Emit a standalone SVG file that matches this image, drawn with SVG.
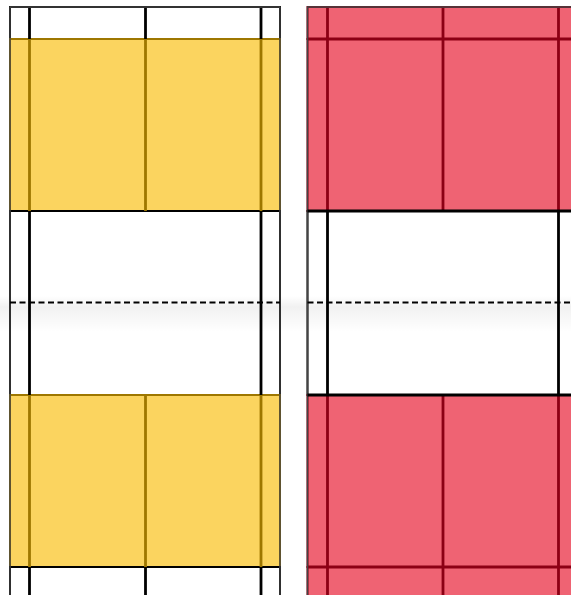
<svg xmlns="http://www.w3.org/2000/svg" width="571" height="595" viewBox="0 0 571 595">
  <defs>
    <linearGradient id="shade" x1="0" y1="0" x2="0" y2="1">
      <stop offset="0" stop-color="#000" stop-opacity="0"/>
      <stop offset="0.3" stop-color="#000" stop-opacity="0.055"/>
      <stop offset="1" stop-color="#000" stop-opacity="0"/>
    </linearGradient>
  </defs>
  <style>
    .w { fill: #ffffff; stroke: #000; stroke-width: 2; }
    .y { fill: #fbd45f; stroke: #9e7700; stroke-width: 2; }
    .r { fill: #ef6373; stroke: #8c0014; stroke-width: 2; }
    .lb { stroke: #000; stroke-width: 2.8; fill: none; }
    .ly { stroke: #9e7700; stroke-width: 2.8; fill: none; }
    .lr { stroke: #8c0014; stroke-width: 2.8; fill: none; }
    .edge { stroke: #444; stroke-width: 1.4; fill: none; }
    .dash { stroke: #000; stroke-width: 2.2; stroke-dasharray: 6 3.5; fill: none; }
  </style>
  <rect x="0" y="0" width="571" height="595" fill="#fff"/>

  <g id="left-column">
    <rect class="w" x="10" y="7" width="270" height="32"/>
    <rect class="y" x="10" y="39" width="270" height="172"/>
    <rect class="w" x="10" y="211" width="270" height="184"/>
    <rect class="y" x="10" y="395" width="270" height="172"/>
    <rect class="w" x="10" y="567" width="270" height="40"/>
  </g>

  <g id="right-column">
    <rect class="r" x="307.5" y="7" width="280" height="32"/>
    <rect class="r" x="307.5" y="39" width="280" height="172"/>
    <rect class="w" x="307.5" y="211" width="280" height="184"/>
    <rect class="r" x="307.5" y="395" width="280" height="172"/>
    <rect class="r" x="307.5" y="567" width="280" height="40"/>
  </g>

  <rect x="0" y="296" width="571" height="36" fill="url(#shade)"/>

  <g id="left-lines">
    <path class="lb" d="M29.5 7V39M145.5 7V39M261 7V39"/>
    <path class="ly" d="M29.5 39V211M145.5 39V211M261 39V211"/>
    <path class="lb" d="M29.5 211V395M261 211V395"/>
    <path class="ly" d="M29.5 395V567M145.5 395V567M261 395V567"/>
    <path class="lb" d="M29.5 567V595M145.5 567V595M261 567V595"/>
    <path class="edge" d="M10 6.5V595M280 6.5V595M9.5 7H280.5"/>
  </g>

  <g id="right-lines">
    <path class="lr" d="M327.5 7V211M443 7V211M558.5 7V211"/>
    <path class="lr" d="M307.5 39H571"/>
    <path class="lb" d="M327.5 211V395M558.5 211V395"/>
    <path class="lr" d="M327.5 395V595M443 395V595M558.5 395V595"/>
    <path class="lr" d="M307.5 567H571"/>
    <path class="edge" d="M307.5 6.5V595M307 7H571"/>
    <path class="lb" d="M307.5 211H571M307.5 395H571"/>
  </g>

  <g id="connectors">
    <path class="dash" d="M10 302.5H280M307.5 302.5H571"/>
  </g>
</svg>
